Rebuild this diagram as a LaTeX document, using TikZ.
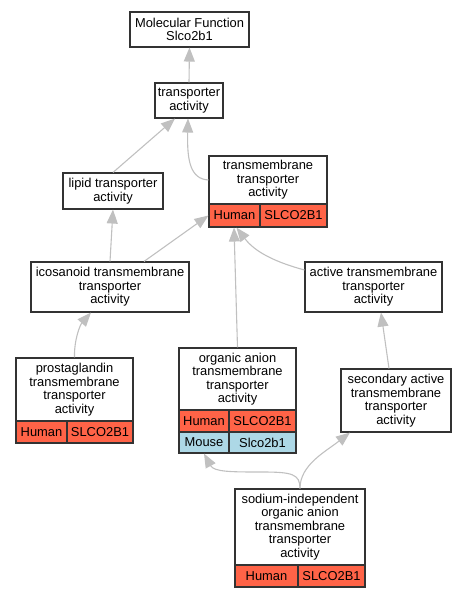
\documentclass[tikz,border=0pt]{standalone}
\usepackage{fontspec}
\setmainfont{Liberation Sans}
\usetikzlibrary{arrows.meta,calc}
\definecolor{hcol}{HTML}{FF6347}
\definecolor{mcol}{HTML}{ADD8E6}
\definecolor{ecol}{HTML}{C0C0C0}
\definecolor{bcol}{HTML}{333333}
\begin{document}
\begin{tikzpicture}[x=1pt,y=-1pt,
  box/.style={draw=bcol, line width=1.1pt, fill=white, inner sep=0pt, align=center,
    font=\fontsize{12.9}{13.5}\selectfont},
  hcell/.style={box, fill=hcol},
  mcell/.style={box, fill=mcol},
  edge/.style={draw=ecol, line width=1.1pt, -{Triangle[length=14pt,width=11pt]}}
]
\useasboundingbox (0,0) rectangle (467,597);
% nodes
\node[box, minimum width=119pt, minimum height=35pt] (mf) at (189.5,29.5) {Molecular Function\\Slco2b1};
\node[box, minimum width=68pt, minimum height=35pt] (ta) at (189,100.5) {transporter\\activity};
\node[box, minimum width=100pt, minimum height=36pt] (lip) at (113,191) {lipid transporter\\activity};
\node[box, minimum width=118pt, minimum height=48pt] (tm) at (268,180) {transmembrane\\transporter\\activity};
\node[hcell, minimum width=51pt, minimum height=23pt] (tmh) at (234.5,215.5) {Human};
\node[hcell, minimum width=67pt, minimum height=23pt] (tmg) at (293.5,215.5) {SLCO2B1};
\node[box, minimum width=158pt, minimum height=50pt] (ico) at (110,287) {icosanoid transmembrane\\transporter\\activity};
\node[box, minimum width=137pt, minimum height=50pt] (act) at (373.5,287) {active transmembrane\\transporter\\activity};
\node[box, minimum width=117pt, minimum height=63pt] (pg) at (74.5,389.5) {prostaglandin\\transmembrane\\transporter\\activity};
\node[hcell, minimum width=51pt, minimum height=22pt] (pgh) at (41.5,432) {Human};
\node[hcell, minimum width=66pt, minimum height=22pt] (pgg) at (100,432) {SLCO2B1};
\node[box, minimum width=117pt, minimum height=62pt] (oa) at (237.5,379) {organic anion\\transmembrane\\transporter\\activity};
\node[hcell, minimum width=50pt, minimum height=22pt] (oah) at (204,421) {Human};
\node[hcell, minimum width=67pt, minimum height=22pt] (oag) at (262.5,421) {SLCO2B1};
\node[mcell, minimum width=50pt, minimum height=21pt] (oam) at (204,442.5) {Mouse};
\node[mcell, minimum width=67pt, minimum height=21pt] (oamg) at (262.5,442.5) {Slco2b1};
\node[box, minimum width=110pt, minimum height=63pt] (sec) at (396,400.5) {secondary active\\transmembrane\\transporter\\activity};
\node[box, minimum width=130pt, minimum height=76pt] (sod) at (300,527) {sodium-independent\\organic anion\\transmembrane\\transporter\\activity};
\node[hcell, minimum width=63pt, minimum height=22pt] (sodh) at (266.5,576) {Human};
\node[hcell, minimum width=67pt, minimum height=22pt] (sodg) at (331.5,576) {SLCO2B1};
% edges
\draw[edge] (ta.north) -- (mf.south);
\draw[edge] (lip.north) -- ($(ta.south)+(-14,0)$);
\draw[edge] (tm.west) .. controls (190,179) and (187,160) .. ($(ta.south)+(-1,0)$);
\draw[edge] (ico.north) -- ($(lip.south)+(0,0)$);
\draw[edge] ($(ico.north)+(34,0)$) -- (tmh.west);
\draw[edge] ($(act.west)+(0,-17)$) .. controls (275,262) and (255,252) .. ($(tmh.south)+(2,0)$);
\draw[edge] (oa.north) -- ($(tmh.south)+(-0.5,0)$);
\draw[edge] (pg.north) .. controls (74,340) and (80,325) .. ($(ico.south)+(-19,0)$);
\draw[edge] ($(sec.north)+(-7,0)$) -- ($(act.south)+(7.5,0)$);
\draw[edge] (sod.north) .. controls (300,474) and (292,472) .. (262,472) .. controls (232,472) and (214,472) .. (oam.south);
\draw[edge] (sod.north) .. controls (300,465) and (325,452) .. ($(sec.south)+(-46,0)$);
\end{tikzpicture}
\end{document}
